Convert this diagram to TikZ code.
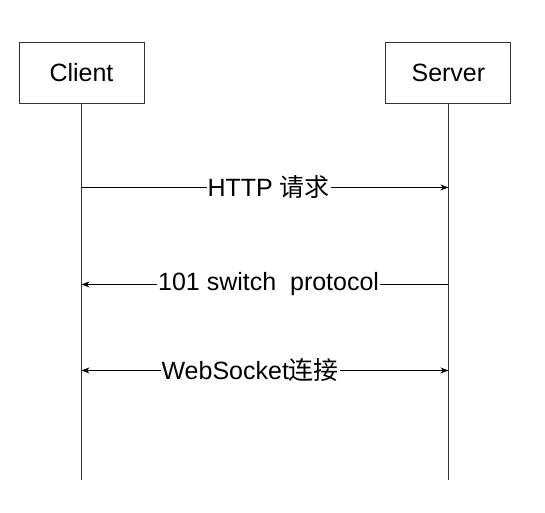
\documentclass[tikz,border=0pt]{standalone}
\usepackage{fontspec}
\setmainfont{Liberation Sans}
\newfontfamily\cjk{Noto Sans CJK SC}
\usetikzlibrary{arrows.meta,positioning}

\begin{document}
\begin{tikzpicture}[x=1pt,y=-1pt,>={Stealth[length=8pt,width=6pt]},line width=0.9pt,
		font=\fontsize{25}{29}\selectfont,
		actor/.style={draw=black!80, minimum width=125pt, minimum height=61pt, inner sep=0pt},
		msg/.style={fill=white, inner sep=1pt}]
		\useasboundingbox (0,0) rectangle (545,512);
		\node[actor] at (81.5,72.5) (client) {Client};
		\node[actor, right=241pt of client] (server) {Server};
		
		% lifelines
		\draw[black!80] (client.south) -- ([yshift=-377pt]client.south) coordinate (cend);
		\draw[black!80] (server.south) -- (cend-|server) coordinate (send);
		
		\draw[->] ([yshift=-84pt]client.south) coordinate (req1) -- (req1-|server) coordinate (req2) node[pos=.51, msg] {HTTP {\cjk 请求}};
		
		\draw[->] ([yshift=-181pt]server.south) coordinate (res1) -- (res1-|client) coordinate (res2) node[pos=.49, msg] {101 switch~ protocol};
		
		\draw[<->] ([yshift=-267pt]client.south) coordinate (ws1) -- (ws1-|server) coordinate (ws2) node[pos=.46, msg] {WebSocket{\cjk 连接}};
		
\end{tikzpicture}
\end{document}
